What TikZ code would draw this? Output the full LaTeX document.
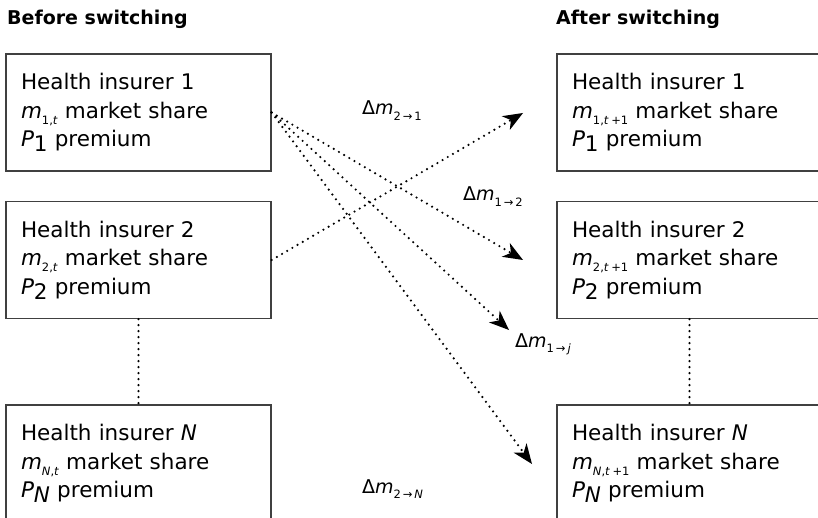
\documentclass[tikz,border=0pt]{standalone}
\usepackage{fontspec}
\setmainfont{DejaVu Sans}
\usetikzlibrary{arrows.meta}

\newcommand{\msub}[1]{\raisebox{-0.55ex}{\fontsize{11.5}{11.5}\selectfont #1}}
\newcommand{\psub}[1]{\raisebox{-0.45ex}{#1}}
\newcommand{\dm}[1]{{\fontsize{19}{19}\selectfont Δ\textit{m}\msub{#1}}}

\begin{document}
\begin{tikzpicture}[x=1pt,y=-1pt,
    insurer/.style={draw=black!75,line width=1.3pt,rectangle,minimum width=265pt,minimum height=117pt,
        text width=235pt,align=left,inner xsep=15pt,font=\fontsize{21.5}{28.5}\selectfont},
    heading/.style={anchor=base west,inner sep=0pt,font=\fontsize{19}{20}\selectfont\bfseries},
    dotline/.style={line width=2.4pt,line cap=round,dash pattern=on 0pt off 6pt},
    flow/.style={dotline,-{Stealth[length=20pt,width=16pt,inset=6pt,line width=0pt]}},
    changelabel/.style={anchor=base west,inner sep=0pt}]
    \useasboundingbox (0,0) rectangle (818,518);
    \node[heading] (before) at (7,25) {Before switching};
    \node[heading] (after) at (556,25) {After switching};
    % before switching
    \node[insurer] (b1) at (138.5,112.5) {Health insurer 1\\ \textit{m}\msub{1,\textit{t}} market share\\ \textit{P}\psub{1} premium};
    \node[insurer] (b2) at (138.5,260) {Health insurer 2\\ \textit{m}\msub{2,\textit{t}} market share\\ \textit{P}\psub{2} premium};
    \node[insurer] (bN) at (138.5,463.5) {Health insurer \textit{N}\\ \textit{m}\msub{\textit{N},\textit{t}} market share\\ \textit{P}\psub{\textit{N}} premium};
    % after switching
    \node[insurer] (a1) at (689.5,112.5) {Health insurer 1\\ \textit{m}\msub{1,\textit{t}\hspace{2.5pt}+1} market share\\ \textit{P}\psub{1} premium};
    \node[insurer] (a2) at (689.5,260) {Health insurer 2\\ \textit{m}\msub{2,\textit{t}\hspace{2.5pt}+1} market share\\ \textit{P}\psub{2} premium};
    \node[insurer] (aN) at (689.5,463.5) {Health insurer \textit{N}\\ \textit{m}\msub{\textit{N},\textit{t}\hspace{2.5pt}+1} market share\\ \textit{P}\psub{\textit{N}} premium};
    \draw[dotline] (b2.south) -- (bN.north);
    \draw[dotline] (a2.south) -- (aN.north);
    % arrow ends
    \coordinate (e21) at (523,113);
    \coordinate (e12) at (523,260);
    \coordinate (e1j) at (509,330);
    \coordinate (e1N) at (532,464);
    \draw[flow] (b2.east) -- (e21);
    \draw[flow] (b1.east) -- (e12);
    \draw[flow] (b1.east) -- (e1j);
    \draw[flow] (b1.east) -- (e1N);
    % labels
    \node[changelabel] (l21) at (362,115) {\dm{2\,→\,1}};
    \node[changelabel] (l12) at (463,201) {\dm{1\,→\,2}};
    \node[changelabel] (l1j) at (515,347) {\dm{1\,→\,\textit{j}}};
    \node[changelabel] (l2N) at (362,493) {\dm{2\,→\,\textit{N}}};
\end{tikzpicture}
\end{document}
